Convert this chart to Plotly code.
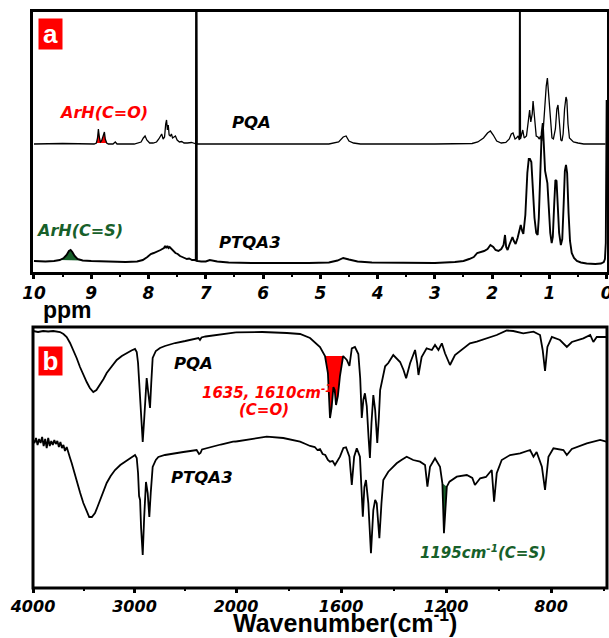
import plotly.graph_objects as go

# ---------------- DATA ----------------
# (a) 1H NMR, chemical shift (ppm) and intensity (arbitrary units above own baseline)
PQA_NMR_PPM = [10.0, 9.5, 8.95, 8.91, 8.89, 8.875, 8.86, 8.84, 8.82, 8.80,
               8.785, 8.77, 8.755, 8.73, 8.70, 8.62, 8.58, 8.55, 8.25, 8.13,
               8.09, 8.06, 8.03, 7.98, 7.92, 7.86, 7.82, 7.79, 7.77, 7.745,
               7.72, 7.70, 7.685, 7.67, 7.655, 7.64, 7.62, 7.60, 7.58, 7.555,
               7.53, 7.50, 7.46, 7.42, 7.38, 7.32, 7.25, 7.19, 7.175, 7.165,
               7.155, 7.10, 6.5, 5.5, 4.85, 4.68, 4.6, 4.55, 4.5, 4.42,
               4.3, 3.0, 2.35, 2.25, 2.15, 2.08, 2.03, 1.98, 1.92, 1.84,
               1.76, 1.70, 1.665, 1.635, 1.60, 1.575, 1.545, 1.525, 1.515, 1.505,
               1.49, 1.465, 1.44, 1.40, 1.37, 1.345, 1.325, 1.30, 1.285, 1.26,
               1.23, 1.20, 1.175, 1.155, 1.135, 1.11, 1.08, 1.055, 1.035, 1.01,
               0.98, 0.955, 0.93, 0.895, 0.87, 0.85, 0.825, 0.80, 0.78, 0.76,
               0.735, 0.71, 0.695, 0.675, 0.65, 0.62, 0.58, 0.50, 0.40, 0.02]
PQA_NMR_INT = [0, 0.5, 0, 1, 6, 15, 7, 2, 3, 6,
               10, 12, 5, 1, 0, 0, 2, 0, 0, 2,
               6, 8, 4, 1, 1, 2, 5, 9, 10, 5,
               7, 20, 24, 14, 19, 9, 8, 10, 6, 7,
               8, 4, 2, 2.5, 1, 1, 1.5, 0.5, 0, 300,
               0, 0, 0, 0, 0, 2, 7, 8, 3, 1,
               0, 0, 0.5, 2, 6, 11, 13, 9, 3, 1,
               1.5, 5, 10, 11, 5, 6, 8, 4, 300, 5,
               9, 14, 6, 8, 22, 34, 22, 30, 43, 25,
               8, 7, 5, 8, 3, 12, 40, 58, 66, 50,
               25, 6, 5, 15, 35, 39, 18, 4, 3, 10,
               35, 47, 44, 20, 6, 4, 2, 1, 0, 0]

PTQA3_NMR_PPM = [10.0, 9.8, 9.65, 9.55, 9.48, 9.43, 9.39, 9.36, 9.33, 9.29,
                 9.24, 9.15, 9.0, 8.7, 8.4, 8.2, 8.1, 8.02, 7.96, 7.91,
                 7.86, 7.82, 7.79, 7.76, 7.73, 7.71, 7.69, 7.67, 7.65, 7.63,
                 7.60, 7.57, 7.53, 7.49, 7.45, 7.41, 7.37, 7.33, 7.29, 7.24,
                 7.19, 7.175, 7.165, 7.155, 7.08, 7.0, 6.93, 6.88, 6.8, 6.6,
                 6.2, 5.2, 4.85, 4.7, 4.6, 4.5, 4.35, 4.1, 3.6, 3.0,
                 2.65, 2.5, 2.4, 2.32, 2.26, 2.2, 2.14, 2.08, 2.03, 1.98,
                 1.94, 1.89, 1.84, 1.80, 1.775, 1.755, 1.73, 1.70, 1.67, 1.645,
                 1.62, 1.59, 1.555, 1.53, 1.50, 1.475, 1.455, 1.42, 1.385, 1.36,
                 1.34, 1.315, 1.29, 1.26, 1.23, 1.205, 1.185, 1.16, 1.135, 1.115,
                 1.095, 1.075, 1.055, 1.035, 1.01, 0.985, 0.96, 0.94, 0.915, 0.895,
                 0.875, 0.855, 0.83, 0.80, 0.775, 0.75, 0.73, 0.71, 0.69, 0.665,
                 0.64, 0.61, 0.57, 0.52, 0.45, 0.35, 0.2, 0.1, 0.05, 0.03,
                 0.015, 0.0]
PTQA3_NMR_INT = [2, 1.5, 2, 3, 5, 8, 12, 13, 11, 7,
                 4, 2.5, 2, 1.5, 1, 1.5, 3, 6, 9, 10,
                 11, 12, 13, 14, 15, 17, 15, 17, 15, 16,
                 14, 12, 10, 9, 7, 6, 5, 4, 4.5, 3,
                 3, 2, 300, 2, 1.5, 1.5, 3, 2.5, 1.5, 0.5,
                 0, 0, 0.5, 2.5, 5, 3.5, 1.5, 0.5, 0, 0,
                 1, 2, 4, 6, 10, 11, 12, 14, 18, 16,
                 13, 12, 14, 18, 28, 16, 13, 18, 23, 26,
                 22, 19, 25, 32, 38, 32, 29, 48, 90, 104,
                 104, 101, 75, 45, 30, 28, 45, 95, 130, 140,
                 118, 92, 86, 80, 55, 30, 20, 26, 60, 83,
                 82, 62, 30, 18, 24, 60, 92, 98, 90, 50,
                 22, 10, 5, 2, 0.5, -0.5, -1, -0.5, 1, 4,
                 20, 163]

NMR_TICKS = [10, 9, 8, 7, 6, 5, 4, 3, 2, 1, 0]

# (b) FT-IR, wavenumber (cm-1) and transmittance (arbitrary units)
PQA_IR_WN = [4000, 3950, 3900, 3850, 3800, 3760, 3734, 3700, 3668, 3635,
             3603, 3570, 3537, 3504, 3471, 3440, 3406, 3375, 3340, 3305,
             3274, 3225, 3175, 3125, 3077, 3030, 2995, 2978, 2965, 2953,
             2935, 2919, 2905, 2895, 2880, 2865, 2847, 2835, 2821, 2790,
             2749, 2700, 2600, 2500, 2400, 2370, 2355, 2340, 2300, 2200,
             2100, 2030, 2000, 1900, 1806, 1756, 1718, 1680, 1661, 1650,
             1642, 1636, 1629, 1624, 1619, 1612, 1604, 1592, 1578, 1568,
             1559, 1547, 1534, 1527, 1521, 1515, 1509, 1502, 1495, 1490,
             1484, 1477, 1470, 1462, 1456, 1451, 1432, 1420, 1401, 1388,
             1375, 1362, 1352, 1337, 1318, 1310, 1305, 1293, 1274, 1254,
             1242, 1229, 1216, 1204, 1185, 1166, 1140, 1109, 1083, 1045,
             1007, 969, 944, 906, 867, 842, 832, 823, 814, 797,
             766, 740, 721, 677, 651, 639, 626, 590]
PQA_IR_T = [257, 256, 257, 256.5, 257, 256.5, 256, 254, 251, 245,
            238, 230, 221, 213, 206, 200, 196, 198, 203, 209,
            215, 222, 228, 232, 235, 237.5, 239, 236, 225, 205,
            170, 146, 168, 190, 210, 196, 180, 205, 230, 237,
            240, 242, 245, 247, 249.5, 250, 248, 250.5, 251.5, 253,
            254.5, 255.5, 255.7, 256, 255, 254, 250, 241, 232, 215,
            170, 180, 201, 198, 183, 192, 212, 232, 228, 222,
            239.7, 241, 234, 210, 170, 188, 194.7, 182, 150, 130,
            165, 193, 178, 145, 170, 198, 221.7, 225, 233, 229.7,
            226, 218, 209.7, 224.7, 238, 225, 213, 231, 239.7, 238,
            243, 238, 244.7, 234.7, 223, 233, 238, 244.7, 246.3, 249.7,
            253, 257.5, 257, 254.7, 256.3, 253, 238, 217, 241, 251,
            248, 241, 246, 249.7, 253, 246, 251, 251]

PTQA3_IR_WN = [4000, 3985, 3970, 3955, 3940, 3925, 3910, 3895, 3880, 3865,
               3850, 3835, 3820, 3805, 3790, 3775, 3760, 3745, 3730, 3715,
               3700, 3685, 3668, 3650, 3635, 3619, 3595, 3569, 3535, 3504,
               3475, 3446, 3420, 3389, 3365, 3340, 3305, 3274, 3235, 3192,
               3140, 3094, 3045, 2995, 2978, 2965, 2955, 2945, 2935, 2919,
               2905, 2887, 2870, 2854, 2840, 2821, 2790, 2765, 2700, 2600,
               2519, 2450, 2388, 2364, 2350, 2335, 2250, 2150, 2029, 2000,
               1940, 1883, 1820, 1756, 1735, 1718, 1700, 1690, 1680, 1670,
               1660, 1650, 1642, 1632, 1623, 1614, 1604, 1591, 1581, 1568,
               1559, 1550, 1540, 1528, 1517, 1511, 1505, 1496, 1486, 1477,
               1470, 1464, 1454, 1446, 1439, 1420, 1400, 1388, 1370, 1350,
               1325, 1299, 1280, 1271, 1261, 1242, 1223, 1214, 1208, 1197,
               1187, 1159, 1121, 1100, 1090, 1070, 1048, 1026, 1017, 1007,
               988, 956, 918, 880, 867, 855, 835, 823, 810, 791,
               753, 740, 721, 664, 613, 590]
PTQA3_IR_T = [148, 145, 150, 143, 149, 145, 151, 142, 149, 140,
              150, 142, 147, 143, 148, 144, 147, 141, 146, 140,
              143, 137, 141, 134, 130, 125, 116, 106, 95, 85,
              77, 71, 71, 75, 81, 88, 97, 105, 112, 118,
              123, 126, 130, 133, 130, 115, 92, 88, 60, 33,
              70, 106, 95, 71, 95, 121, 128, 131, 133, 135,
              136, 137, 138, 134, 135, 138.5, 141, 143.5, 146.3, 146.5,
              149, 151.3, 150, 146.3, 144, 142, 141, 138, 139, 134,
              133, 128, 126.3, 127, 123, 127, 131.3, 140, 140.7, 131.3,
              103, 131.3, 139.7, 131.3, 71.3, 101, 108, 84.7, 34.7, 78,
              88, 84.7, 49.7, 84.7, 108, 116.3, 122, 124.7, 128, 131.3,
              128, 126.3, 123, 101.3, 121.3, 129.7, 121.3, 104.7, 54.7, 101.3,
              106.3, 111.3, 113, 110, 103, 109.7, 111, 118, 86.3, 114.7,
              128, 133, 134.7, 138, 131.3, 136, 121.3, 98, 131.3, 139.7,
              138, 133, 139, 144.7, 148, 146.3]

IR_TICKS_HIGH = [4000, 3000]
IR_TICKS_LOW = [2000, 1600, 1200, 800]
IR_MINOR_HIGH = [3500, 2500]
IR_MINOR_LOW = [1800, 1400, 1000, 600]
IR_BREAK = 2000

# highlighted bands
CO_NMR_BAND = (8.73, 8.91)
CS_NMR_BAND = (9.15, 9.55)
CO_IR_BAND = (1592, 1661)
CS_IR_BAND = (1196, 1214)

# ---------------- STYLE / LAYOUT ----------------
PQA_OFFSET = 119
RED = "#ff0000"
GREEN = "#17602a"
W, H = 609, 638
ML, MR, MT, MB = 33, 2, 12, 50
PW, PH = W - ML - MR, H - MT - MB


def fx(x):
    return (x - ML) / PW


def fy(y):
    return (H - MB - y) / PH


A_DOM = [fy(272), 1.0]
B_DOM = [0.0, fy(327)]
SPLIT = fx(236)

fig = go.Figure()


def band(xs, ys, lo, hi, shift=0):
    pts = [(x, y + shift) for x, y in zip(xs, ys) if lo <= x <= hi]
    return [p[0] for p in pts], [p[1] for p in pts]


# NMR fills
bx, by = band(PQA_NMR_PPM, PQA_NMR_INT, *CO_NMR_BAND, shift=PQA_OFFSET)
fig.add_trace(go.Scatter(x=bx, y=by, fill="toself", fillcolor=RED, mode="lines",
                         line=dict(width=0, color=RED), xaxis="x", yaxis="y"))
bx, by = band(PTQA3_NMR_PPM, PTQA3_NMR_INT, *CS_NMR_BAND)
fig.add_trace(go.Scatter(x=bx, y=by, fill="toself", fillcolor=GREEN, mode="lines",
                         line=dict(width=0, color=GREEN), xaxis="x", yaxis="y"))

# NMR lines
fig.add_trace(go.Scatter(x=PQA_NMR_PPM, y=[v + PQA_OFFSET for v in PQA_NMR_INT],
                         mode="lines", line=dict(color="black", width=1.3),
                         xaxis="x", yaxis="y"))
fig.add_trace(go.Scatter(x=PTQA3_NMR_PPM, y=PTQA3_NMR_INT,
                         mode="lines", line=dict(color="black", width=1.9),
                         xaxis="x", yaxis="y"))

# IR fills (low wavenumber axis)
bx, by = band(PQA_IR_WN, PQA_IR_T, *CO_IR_BAND)
fig.add_trace(go.Scatter(x=bx, y=by, fill="toself", fillcolor=RED, mode="lines",
                         line=dict(width=0, color=RED), xaxis="x3", yaxis="y2"))
bx, by = band(PTQA3_IR_WN, PTQA3_IR_T, *CS_IR_BAND)
fig.add_trace(go.Scatter(x=bx, y=by, fill="toself", fillcolor=GREEN, mode="lines",
                         line=dict(width=0, color=GREEN), xaxis="x3", yaxis="y2"))

# IR lines, split at the scale break
for wn, tr in ((PQA_IR_WN, PQA_IR_T), (PTQA3_IR_WN, PTQA3_IR_T)):
    hi = [(w, t) for w, t in zip(wn, tr) if w >= IR_BREAK]
    lo = [(w, t) for w, t in zip(wn, tr) if w <= IR_BREAK]
    fig.add_trace(go.Scatter(x=[p[0] for p in hi], y=[p[1] for p in hi], mode="lines",
                             line=dict(color="black", width=1.8), xaxis="x2", yaxis="y2"))
    fig.add_trace(go.Scatter(x=[p[0] for p in lo], y=[p[1] for p in lo], mode="lines",
                             line=dict(color="black", width=1.8), xaxis="x3", yaxis="y2"))

TICKFONT_A = dict(family="DejaVu Sans", size=17, color="black", weight="bold", style="italic")
TICKFONT_B = dict(family="DejaVu Sans", size=16, color="black", weight="bold", style="italic")

xa_common = dict(ticks="outside", ticklen=4, tickwidth=2.5, tickcolor="black",
                 showgrid=False, zeroline=False, tickmode="array", ticklabelstandoff=0,
                 ticklabeloverflow="allow", automargin=False)

fig.update_layout(
    width=W, height=H, margin=dict(l=ML, r=MR, t=MT, b=MB, autoexpand=False),
    paper_bgcolor="white", plot_bgcolor="white", showlegend=False,
    xaxis=dict(domain=[0, 1], anchor="y", range=[10.017, -0.006], tickvals=NMR_TICKS,
               ticktext=[str(t) for t in NMR_TICKS], tickfont=TICKFONT_A,
               showline=True, linecolor="black", linewidth=3, mirror=True,
               minor=dict(tickmode="array", tickvals=[t + 0.5 for t in NMR_TICKS[1:]],
                          ticks="outside", ticklen=2, tickwidth=1.5, tickcolor="black"),
               **xa_common),
    yaxis=dict(domain=A_DOM, anchor="x", range=[-9, 251], showticklabels=False,
               ticks="", showgrid=False, zeroline=False, automargin=False,
               showline=True, linecolor="black", linewidth=3, mirror=True),
    xaxis2=dict(domain=[0, SPLIT], anchor="y2", range=[4000, IR_BREAK],
                tickvals=IR_TICKS_HIGH, ticktext=[str(t) for t in IR_TICKS_HIGH],
                tickfont=TICKFONT_B, showline=False,
                minor=dict(tickmode="array", tickvals=IR_MINOR_HIGH, ticks="outside",
                           ticklen=2, tickwidth=1.5, tickcolor="black"),
                **xa_common),
    xaxis3=dict(domain=[SPLIT, 1], anchor="y2", range=[IR_BREAK, 587],
                tickvals=IR_TICKS_LOW, ticktext=[str(t) for t in IR_TICKS_LOW],
                tickfont=TICKFONT_B, showline=False,
                minor=dict(tickmode="array", tickvals=IR_MINOR_LOW, ticks="outside",
                           ticklen=2, tickwidth=1.5, tickcolor="black"),
                **xa_common),
    yaxis2=dict(domain=B_DOM, anchor="x2", range=[0, 261], showticklabels=False,
                ticks="", showgrid=False, zeroline=False, showline=False, automargin=False),
    shapes=[dict(type="rect", xref="paper", yref="paper", x0=0, x1=1,
                 y0=B_DOM[0], y1=B_DOM[1], line=dict(color="black", width=3),
                 layer="above")],
)

ITAL = dict(family="DejaVu Sans", weight="bold", style="italic")


def note(text, x, y, size, color="black", font=None, **kw):
    f = dict(font or ITAL)
    f.update(size=size, color=color)
    fig.add_annotation(text=text, x=fx(x), y=fy(y), xref="paper", yref="paper",
                       showarrow=False, font=f, xanchor="center", yanchor="middle", **kw)


BOLD = dict(family="Liberation Sans", weight="bold")
# panel letters
note("a", 50.5, 34, 26, "white", BOLD, bgcolor=RED, width=23, height=30, borderpad=0)
note("b", 50.5, 361, 26, "white", BOLD, bgcolor=RED, width=23, height=28, borderpad=0)
# NMR labels
note("ArH(C=O)", 103, 112, 16, RED)
note("PQA", 251, 122, 16.5)
note("ArH(C=S)", 79, 230, 16, GREEN)
note("PTQA3", 250, 243, 16.5)
# IR labels
note("PQA", 193, 363, 16.5)
note("PTQA3", 202, 477, 16.5)
note("1635, 1610cm<sup>-1</sup>", 267, 392, 15, RED)
note("(C=O)", 264, 410, 15, RED)
note("1195cm<sup>-1</sup>(C=S)", 483, 552, 15, GREEN)
# axis titles
note("ppm", 67, 310, 23, "black", BOLD)
note("Wavenumber(cm<sup>-1</sup>)", 345, 621, 25, "black", BOLD)

POST = (
    "document.documentElement.style.overflow='hidden';"
    "document.body.style.margin='0';document.body.style.overflow='hidden';"
    "var gd=document.getElementById('{plot_id}');gd.style.overflow='hidden';"
    "if(gd.parentElement){gd.parentElement.style.overflow='hidden';}"
    "var svgs=gd.getElementsByTagName('svg');"
    "for(var i=0;i<svgs.length;i++){svgs[i].style.overflow='hidden';}"
)
fig.write_html("out.html", config={"displayModeBar": False}, post_script=POST)
